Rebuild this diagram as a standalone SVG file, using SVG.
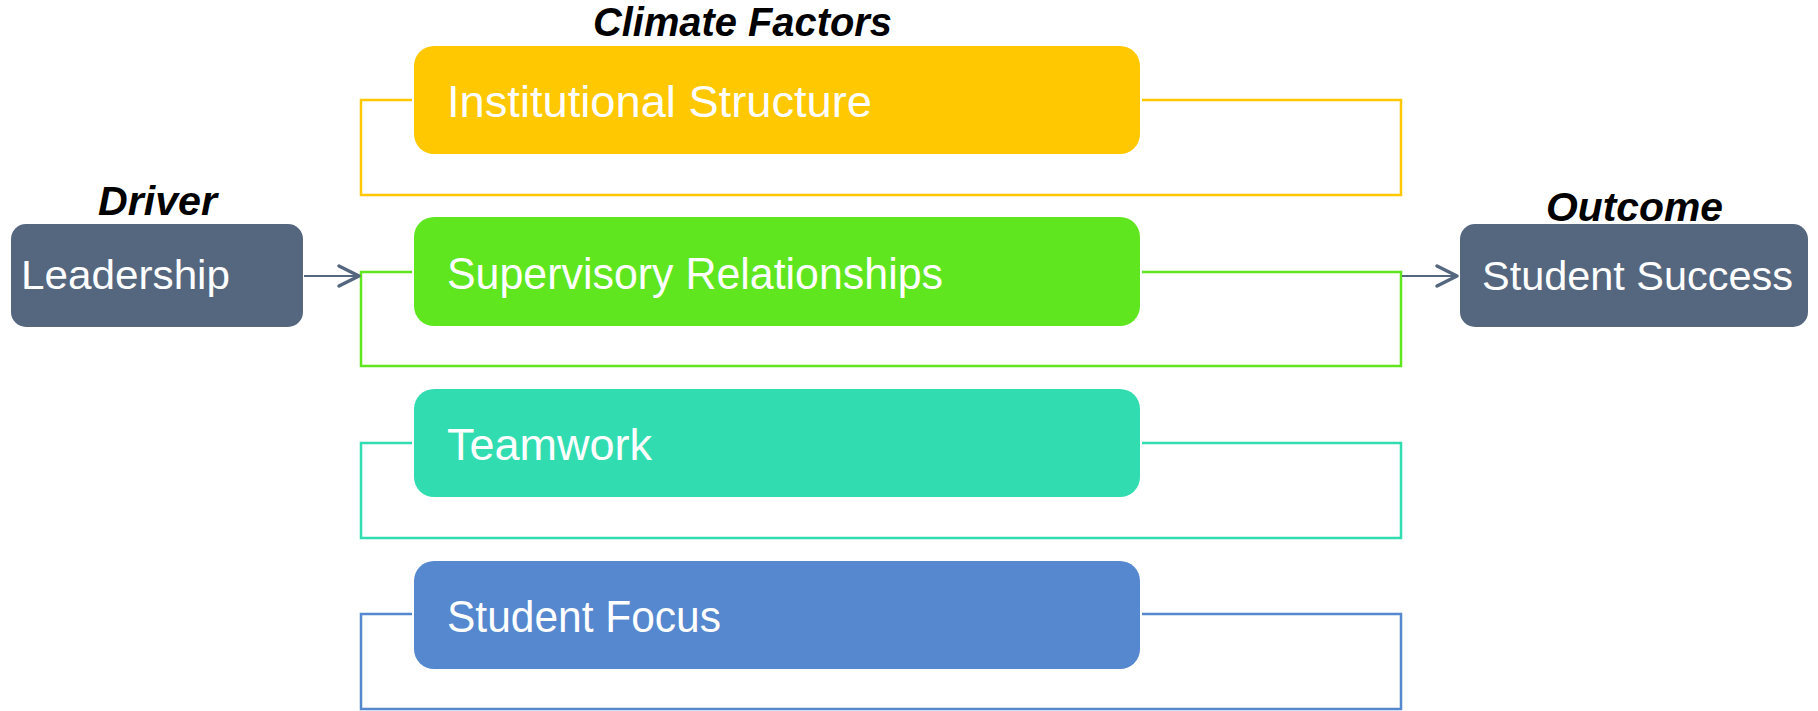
<svg xmlns="http://www.w3.org/2000/svg" width="1818" height="711" viewBox="0 0 1818 711">
<style>
.bg{fill:#ffffff}
.slate{fill:#55677f}
.head{font-family:"Liberation Sans",Arial,sans-serif;font-weight:bold;font-style:italic;font-size:40px;fill:#000}
.lbl{font-family:"Liberation Sans",Arial,sans-serif;font-size:44px;fill:#ffffff}
.lbl2{font-family:"Liberation Sans",Arial,sans-serif;font-size:41px;fill:#ffffff}
.br{fill:none;stroke-width:2.5}
.arr{fill:none;stroke:#55677f;stroke-width:2}
.ah{fill:none;stroke:#55677f;stroke-width:3.5;stroke-linecap:round;stroke-linejoin:round}
</style>
<rect class="bg" x="0" y="0" width="1818" height="711"/>
<g id="connectors">
<polyline class="br" stroke="#ffc800" points="412,100 361,100 361,195 1401,195 1401,100 1142,100"/>
<polyline class="br" stroke="#5fe61f" points="412,272 361,272 361,366 1401,366 1401,272 1142,272"/>
<polyline class="br" stroke="#31ddb0" points="412,443 361,443 361,538 1401,538 1401,443 1142,443"/>
<polyline class="br" stroke="#5588cf" points="412,614 361,614 361,709 1401,709 1401,614 1142,614"/>
<line class="arr" x1="304" y1="276" x2="358" y2="276"/>
<polyline class="ah" points="339,266 359,276 339,286"/>
<line class="arr" x1="1402" y1="276" x2="1456" y2="276"/>
<polyline class="ah" points="1437,266 1457,276 1437,286"/>
</g>
<g id="title-climate"><text class="head" x="593" y="36" textLength="299" lengthAdjust="spacingAndGlyphs">Climate Factors</text></g>
<g id="title-driver"><text class="head" x="98" y="215" textLength="119" lengthAdjust="spacingAndGlyphs">Driver</text></g>
<g id="title-outcome"><text class="head" x="1546" y="221" textLength="177" lengthAdjust="spacingAndGlyphs">Outcome</text></g>
<g id="node-leadership">
<rect class="slate" x="11" y="224" width="292" height="103" rx="15"/>
<text class="lbl2" x="21" y="289" textLength="209" lengthAdjust="spacingAndGlyphs">Leadership</text>
</g>
<g id="node-student-success">
<rect class="slate" x="1460" y="224" width="348" height="103" rx="15"/>
<text class="lbl2" x="1482" y="290" textLength="311" lengthAdjust="spacingAndGlyphs">Student Success</text>
</g>
<g id="node-institutional">
<rect fill="#ffc800" x="414" y="46" width="726" height="108" rx="20"/>
<text class="lbl" x="447" y="117" textLength="425" lengthAdjust="spacingAndGlyphs">Institutional Structure</text>
</g>
<g id="node-supervisory">
<rect fill="#5fe61f" x="414" y="217" width="726" height="109" rx="20"/>
<text class="lbl" x="447" y="289" textLength="496" lengthAdjust="spacingAndGlyphs">Supervisory Relationships</text>
</g>
<g id="node-teamwork">
<rect fill="#31ddb0" x="414" y="389" width="726" height="108" rx="20"/>
<text class="lbl" x="447" y="460" textLength="205" lengthAdjust="spacingAndGlyphs">Teamwork</text>
</g>
<g id="node-student-focus">
<rect fill="#5588cf" x="414" y="561" width="726" height="108" rx="20"/>
<text class="lbl" x="447" y="632" textLength="274" lengthAdjust="spacingAndGlyphs">Student Focus</text>
</g>
</svg>
